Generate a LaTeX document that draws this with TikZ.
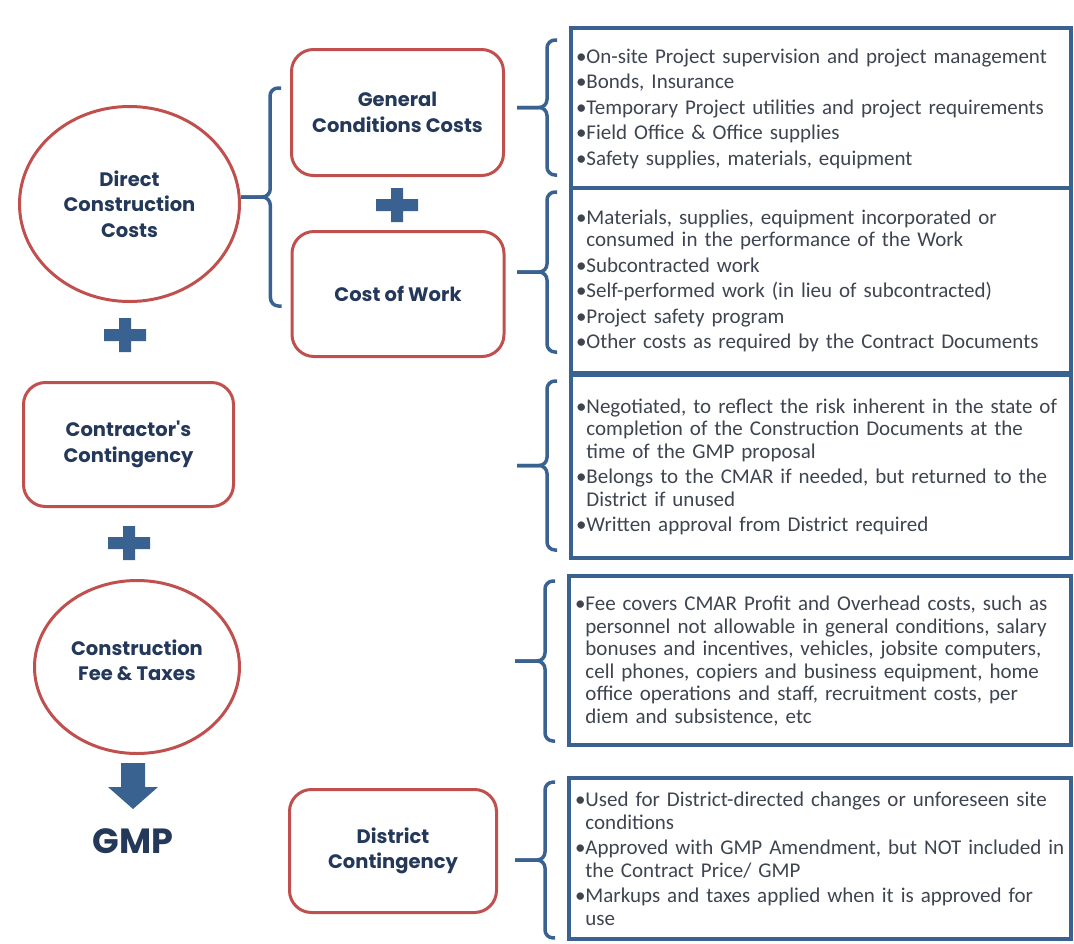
\documentclass[tikz,border=0pt]{standalone}
\usepackage{fontspec}
\setmainfont{Carlito}
\newfontfamily\headfont{Poppins}
\usetikzlibrary{shapes.geometric,calc}
\definecolor{costred}{HTML}{C0504D}
\definecolor{costblue}{HTML}{3A6291}
\definecolor{headnavy}{HTML}{24385A}
\definecolor{itemgray}{HTML}{3E4450}
\newlength{\bulw}
\newcommand{\itm}[1]{\par\settowidth{\bulw}{\textbullet}\hangindent=\bulw\hangafter=1\noindent\textbullet#1}
\newcommand{\itmend}{\par\vspace*{10pt}}
\newcommand{\curly}[3]{%
  \coordinate (t) at ($(#1.north west)+(-22,#2)$);
  \coordinate (b) at ($(#1.south west)+(-22,-#3)$);
  \coordinate (m) at ($(t)!0.5!(b)$);
  \draw[brace] ($(t)+(10,0)$) -- (t) -- (m) -- ($(m)+(-30,0)$);
  \draw[brace] ($(b)+(10,0)$) -- (b) -- (m) -- ($(m)+(-30,0)$);
}

\begin{document}
\begin{tikzpicture}[x=1pt,y=-1pt,
  roundbox/.style={draw=costred,line width=3pt,rounded corners=22pt,align=center,text=headnavy,font=\headfont\bfseries\fontsize{19.5}{25.5}\selectfont},
  roundoval/.style={ellipse,draw=costred,line width=3pt,align=center,text=headnavy,font=\headfont\bfseries\fontsize{19.5}{25.5}\selectfont},
  itembox/.style={draw=costblue,line width=4pt,minimum width=500pt,text width=490pt,inner xsep=5pt,align=left,text=itemgray,font=\fontsize{21}{22.5}\selectfont\setlength{\parskip}{3pt}},
  brace/.style={draw=costblue,line width=3.5pt,rounded corners=8pt},
  pics/plussign/.style={code={\fill[costblue] (-21,-6) rectangle (21,6) (-6,-17) rectangle (6,17);}}]
  \useasboundingbox (0,0) rectangle (1074,943);

  % cost components
  \node[roundoval,minimum width=220pt,minimum height=195pt] (dcc) at (129.5,204) {Direct\\Construction\\Costs};
  \node[roundbox,minimum width=212pt,minimum height=126pt] (gcc) at (397.5,112.5) {General\\Conditions Costs};
  \node[roundbox,minimum width=212pt,minimum height=125pt] (cow) at (398,294) {Cost of Work};
  \node[roundbox,minimum width=210pt,minimum height=124pt] (cc) at (128.5,444.5) {Contractor's\\Contingency};
  \node[roundoval,minimum width=205pt,minimum height=173pt,text depth=14pt] (fee) at (137,667) {Construction\\Fee \& Taxes};
  \node[roundbox,minimum width=207pt,minimum height=123pt] (dcont) at (393,851) {District\\Contingency};
  \node[text=headnavy,font=\headfont\bfseries\fontsize{35}{40}\selectfont] (gmp) at (133,841) {GMP};

  \pic at (397,205) {plussign};
  \pic at (125,335) {plussign};
  \pic at (129,543) {plussign};

  % what each one covers
  \node[itembox,minimum height=160pt] (gcitems) at (821,108) {%
    \itm{On-site Project supervision and project management}
    \itm{Bonds, Insurance}
    \itm{Temporary Project utilities and project requirements}
    \itm{Field Office \& Office supplies}
    \itm{Safety supplies, materials, equipment}\itmend};
  \node[itembox,minimum height=185pt] (cowitems) at (821,280.5) {%
    \itm{Materials, supplies, equipment incorporated or\newline consumed in the performance of the Work}
    \itm{Subcontracted work}
    \itm{Self-performed work (in lieu of subcontracted)}
    \itm{Project safety program}
    \itm{Other costs as required by the Contract Documents}\itmend};
  \node[itembox,minimum height=183pt] (ccitems) at (821,466.5) {%
    \itm{Negotiated, to reflect the risk inherent in the state of\newline completion of the Construction Documents at the\newline time of the GMP proposal}
    \itm{Belongs to the CMAR if needed, but returned to the\newline District if unused}
    \itm{Written approval from District required}\itmend};
  \node[itembox,minimum width=502pt,minimum height=169pt] (feeitems) at (820,660.5) {%
    \itm{Fee covers CMAR Profit and Overhead costs, such as\newline personnel not allowable in general conditions, salary\newline bonuses and incentives, vehicles, jobsite computers,\newline cell phones, copiers and business equipment, home\newline office operations and staff, recruitment costs, per\newline diem and subsistence, etc}\itmend};
  \node[itembox,minimum width=502pt,minimum height=159pt] (dcitems) at (820,858.5) {%
    \itm{Used for District-directed changes or unforeseen site\newline conditions}
    \itm{Approved with GMP Amendment, but NOT included in\newline the Contract Price/ GMP}
    \itm{Markups and taxes applied when it is approved for\newline use}\itmend};

  % braces
  \coordinate (lt) at ($(gcc.north west)+(-20,40)$);
  \coordinate (lb) at ($(cow.south west)+(-20,-52)$);
  \coordinate (lm) at ($(lt)!0.5!(lb)$);
  \draw[brace] ($(lt)+(11,0)$) -- (lt) -- (lm) -- (lm -| dcc.east);
  \draw[brace] ($(lb)+(11,0)$) -- (lb) -- (lm) -- (lm -| dcc.east);
  \curly{gcitems}{14}{15}
  \curly{cowitems}{6}{23}
  \curly{ccitems}{8}{10}
  \curly{feeitems}{7}{6}
  \curly{dcitems}{6}{3}

  % down to the GMP
  \coordinate (a) at ($(fee.south -| gmp.north)+(0,8)$);
  \fill[costblue] ($(a)+(-12,0)$) -- ($(a)+(12,0)$) -- ($(a)+(12,24)$) -- ($(a)+(25,24)$) -- ($(a)+(0,46)$) -- ($(a)+(-25,24)$) -- ($(a)+(-12,24)$) -- cycle;
\end{tikzpicture}
\end{document}
